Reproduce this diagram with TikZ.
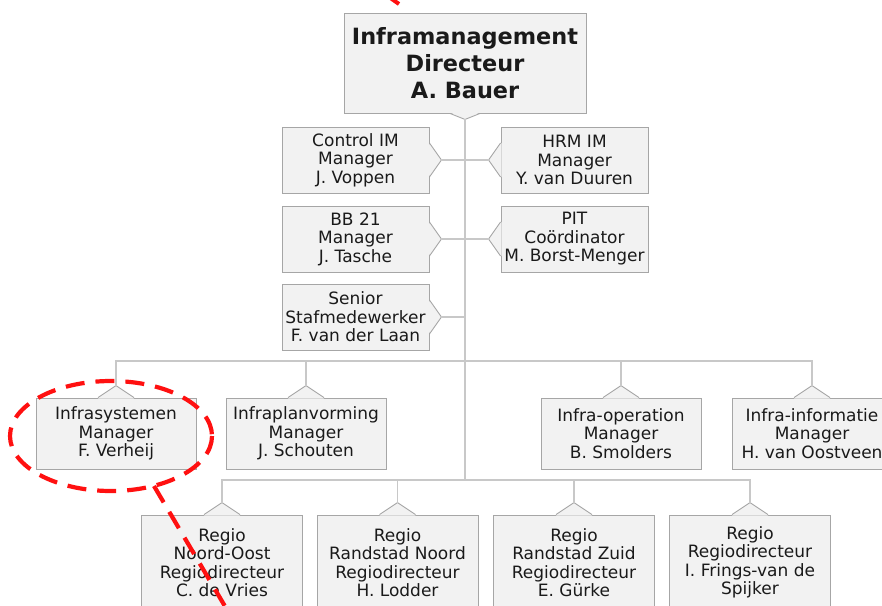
\documentclass[tikz,border=0pt]{standalone}
\usepackage{fontspec}
\setmainfont{DejaVu Sans}
\definecolor{boxfill}{HTML}{F2F2F2}
\definecolor{boxline}{HTML}{A6A6A6}
\definecolor{connc}{HTML}{C8C8C8}
\definecolor{txt}{HTML}{1A1A1A}
\definecolor{mark}{HTML}{FF1010}
\tikzset{
  box/.style={draw=boxline, fill=boxfill, line width=0.9pt, inner sep=0pt, align=center,
    font=\fontsize{17}{18.5}\selectfont, text=txt},
  staffbox/.style={box, minimum width=147pt, minimum height=66pt},
  unitbox/.style={box, minimum width=160pt, minimum height=71pt},
  regiobox/.style={box, minimum width=161pt, minimum height=95pt},
  conn/.style={draw=connc, line width=1.1pt},
  tabedge/.style={draw=boxline, line width=0.9pt},
  redmark/.style={draw=mark, line width=4.2pt, dash pattern=on 19pt off 11pt},
}
\newcommand\tabup[1]{%
  \fill[boxfill] ([xshift=-18pt,yshift=-1pt]#1.north) -- ([yshift=12pt]#1.north) -- ([xshift=18pt,yshift=-1pt]#1.north) -- cycle;
  \draw[tabedge] ([xshift=-18pt]#1.north) -- ([yshift=12pt]#1.north) coordinate (#1-tab) -- ([xshift=18pt]#1.north);}
\newcommand\tabright[1]{%
  \fill[boxfill] ([xshift=-1pt,yshift=17pt]#1.east) -- ([xshift=12pt]#1.east) -- ([xshift=-1pt,yshift=-17pt]#1.east) -- cycle;
  \draw[tabedge] ([yshift=17pt]#1.east) -- ([xshift=12pt]#1.east) coordinate (#1-tab) -- ([yshift=-17pt]#1.east);}
\newcommand\tableft[1]{%
  \fill[boxfill] ([xshift=1pt,yshift=17pt]#1.west) -- ([xshift=-12pt]#1.west) -- ([xshift=1pt,yshift=-17pt]#1.west) -- cycle;
  \draw[tabedge] ([yshift=17pt]#1.west) -- ([xshift=-12pt]#1.west) coordinate (#1-tab) -- ([yshift=-17pt]#1.west);}
\begin{document}
\begin{tikzpicture}[x=1pt,y=-1pt]
\useasboundingbox (0,0) rectangle (882,605);
\clip (0,0) rectangle (882,605);
\fill[white] (0,0) rectangle (882,605);

% top box
\node[box, minimum width=242pt, minimum height=100pt, font=\fontsize{22.4}{27}\selectfont\bfseries] (top) at (465,63) {Inframanagement\\Directeur\\A. Bauer};
\fill[boxfill] ([xshift=-15pt,yshift=1pt]top.south) -- ([yshift=-6pt]top.south) -- ([xshift=15pt,yshift=1pt]top.south) -- cycle;
\draw[tabedge] ([xshift=-15pt]top.south) -- ([yshift=-6pt]top.south) coordinate (top-tab) -- ([xshift=15pt]top.south);

% staff
\node[staffbox] (ctrl) at (355.5,160) {Control IM\\Manager\\J. Voppen};
\node[staffbox] (hrm) at (574.5,160) {HRM IM\\Manager\\Y. van Duuren};
\node[staffbox] (bb) at (355.5,239) {BB 21\\Manager\\J. Tasche};
\node[staffbox] (pit) at (574.5,239) {PIT\\Coördinator\\M. Borst-Menger};
\node[staffbox] (senior) at (355.5,317) {Senior\\Stafmedewerker\\F. van der Laan};
\tabright{ctrl}\tableft{hrm}\tabright{bb}\tableft{pit}\tabright{senior}

% units
\node[unitbox] (isys) at (116,433.5) {Infrasystemen\\Manager\\F. Verheij};
\node[unitbox] (iplan) at (306,433.5) {Infraplanvorming\\Manager\\J. Schouten};
\node[unitbox] (iop) at (621,433.5) {Infra-operation\\Manager\\B. Smolders};
\node[unitbox] (iinf) at (812,433.5) {Infra-informatie\\Manager\\H. van Oostveen};
\tabup{isys}\tabup{iplan}\tabup{iop}\tabup{iinf}

% regions
\node[regiobox] (r1) at (222,562.5) {Regio\\Noord-Oost\\Regiodirecteur\\C. de Vries};
\node[regiobox] (r2) at (397.5,562.5) {Regio\\Randstad Noord\\Regiodirecteur\\H. Lodder};
\node[regiobox] (r3) at (574,562.5) {Regio\\Randstad Zuid\\Regiodirecteur\\E. Gürke};
\node[regiobox] (r4) at (750,562.5) {Regio\\Regiodirecteur\\I. Frings-van de\\Spijker};
\tabup{r1}\tabup{r2}\tabup{r3}\tabup{r4}

% connectors
\coordinate (bus2) at (465,361);
\coordinate (bus3) at (465,480);
\draw[conn] (top-tab) -- (bus3);
\draw[conn] (ctrl-tab) -- (hrm-tab);
\draw[conn] (bb-tab) -- (pit-tab);
\draw[conn] (senior-tab) -- (senior-tab -| top-tab);
\draw[conn] (isys-tab) -- (isys-tab |- bus2) -- (iinf-tab |- bus2) -- (iinf-tab);
\draw[conn] (iplan-tab) -- (iplan-tab |- bus2);
\draw[conn] (iop-tab) -- (iop-tab |- bus2);
\draw[conn] (r1-tab) -- (r1-tab |- bus3) -- (r4-tab |- bus3) -- (r4-tab);
\draw[conn] (r2-tab) -- (r2-tab |- bus3);
\draw[conn] (r3-tab) -- (r3-tab |- bus3);

% red annotations
\draw[redmark] (111,436) ellipse [x radius=101, y radius=55];
\coordinate (redA) at (154,486);
\coordinate (redB) at (226,608);
\draw[redmark] (redA) -- (redB);
\coordinate (redC) at (389,-3);
\coordinate (redD) at (399,4);
\draw[draw=mark, line width=4pt] (redC) -- (redD);
\end{tikzpicture}
\end{document}
